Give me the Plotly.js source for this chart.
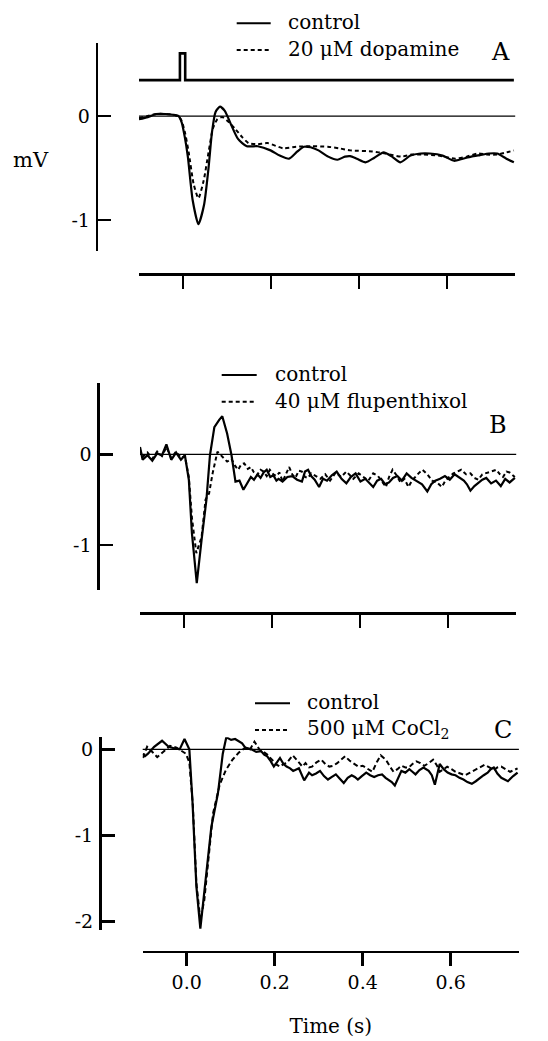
<!DOCTYPE html>
<html>
<head>
<meta charset="utf-8">
<script src="https://cdn.plot.ly/plotly-3.0.1.min.js"></script>
<style>
  html, body { margin: 0; padding: 0; background: #ffffff; }
  #chart { width: 548px; height: 1041px; }
</style>
</head>
<body>
<div id="chart"></div>
<script>
// ---------------- DATA ----------------
// Panel A : control vs 20 µM dopamine  (time in s, voltage in mV)
const tA_control = [-0.1,-0.08,-0.061,-0.04,-0.018,-0.01,-0.003,0.004,0.011,0.022,0.035,0.048,0.058,0.066,0.074,0.084,0.095,0.108,0.125,0.145,0.17,0.199,0.22,0.241,0.26,0.275,0.29,0.308,0.33,0.351,0.368,0.38,0.395,0.415,0.435,0.456,0.475,0.494,0.517,0.54,0.561,0.59,0.616,0.636,0.655,0.675,0.695,0.714,0.735,0.752];
const vA_control = [-0.03,-0.01,0.02,0.02,0.01,0.0,-0.06,-0.2,-0.39,-0.81,-1.04,-0.85,-0.50,-0.15,0.04,0.09,0.05,-0.07,-0.22,-0.29,-0.29,-0.33,-0.38,-0.41,-0.34,-0.295,-0.30,-0.33,-0.39,-0.42,-0.39,-0.385,-0.41,-0.445,-0.40,-0.35,-0.39,-0.445,-0.38,-0.36,-0.36,-0.38,-0.43,-0.41,-0.39,-0.375,-0.36,-0.36,-0.41,-0.445];
const tA_dopamine = [-0.1,-0.08,-0.06,-0.04,-0.018,-0.005,0.004,0.013,0.024,0.035,0.047,0.058,0.068,0.078,0.089,0.102,0.118,0.134,0.149,0.17,0.192,0.228,0.257,0.29,0.329,0.355,0.38,0.43,0.46,0.496,0.52,0.546,0.58,0.619,0.645,0.669,0.69,0.714,0.735,0.752];
const vA_dopamine = [-0.02,0.0,0.02,0.02,0.01,-0.03,-0.15,-0.35,-0.65,-0.79,-0.62,-0.35,-0.12,-0.03,-0.01,-0.05,-0.12,-0.20,-0.26,-0.27,-0.26,-0.31,-0.295,-0.29,-0.295,-0.31,-0.33,-0.34,-0.36,-0.39,-0.37,-0.37,-0.38,-0.41,-0.39,-0.36,-0.37,-0.37,-0.35,-0.33];
// stimulus marker above panel A
const tA_stimulus = [-0.1,-0.007,-0.007,0.005,0.005,0.752];
const vA_stimulus = [0.346,0.346,0.603,0.603,0.346,0.346];

// Panel B : control vs 40 µM flupenthixol
const tB_control = [-0.1,-0.094,-0.083,-0.072,-0.061,-0.05,-0.04,-0.029,-0.018,-0.007,0.002,0.011,0.018,0.029,0.04,0.051,0.059,0.069,0.08,0.087,0.098,0.108,0.117,0.126,0.135,0.145,0.152,0.159,0.167,0.174,0.181,0.188,0.196,0.203,0.21,0.215,0.224,0.235,0.246,0.257,0.268,0.275,0.282,0.289,0.297,0.307,0.316,0.325,0.336,0.347,0.358,0.369,0.379,0.39,0.401,0.412,0.421,0.43,0.439,0.448,0.457,0.466,0.475,0.485,0.495,0.506,0.517,0.528,0.541,0.553,0.562,0.571,0.582,0.593,0.604,0.615,0.625,0.636,0.643,0.651,0.66,0.669,0.678,0.687,0.698,0.709,0.72,0.73,0.74,0.752];
const vB_control = [0.08,-0.06,-0.01,-0.07,0.01,-0.01,0.11,-0.06,0.02,-0.06,-0.01,-0.28,-0.87,-1.42,-0.94,-0.50,-0.01,0.30,0.38,0.42,0.23,-0.01,-0.30,-0.29,-0.39,-0.30,-0.25,-0.28,-0.22,-0.26,-0.20,-0.17,-0.25,-0.23,-0.29,-0.27,-0.30,-0.25,-0.24,-0.28,-0.30,-0.19,-0.17,-0.24,-0.28,-0.36,-0.27,-0.29,-0.23,-0.19,-0.27,-0.32,-0.25,-0.21,-0.30,-0.27,-0.31,-0.36,-0.29,-0.27,-0.33,-0.31,-0.26,-0.24,-0.29,-0.21,-0.26,-0.29,-0.33,-0.41,-0.33,-0.29,-0.27,-0.24,-0.28,-0.22,-0.25,-0.29,-0.33,-0.40,-0.35,-0.31,-0.28,-0.26,-0.32,-0.29,-0.35,-0.27,-0.31,-0.26];
const tB_flupenthixol = [-0.1,-0.094,-0.083,-0.072,-0.061,-0.05,-0.04,-0.029,-0.018,-0.007,0.002,0.011,0.018,0.028,0.04,0.049,0.057,0.065,0.076,0.087,0.098,0.108,0.115,0.123,0.13,0.137,0.145,0.152,0.159,0.166,0.174,0.181,0.188,0.195,0.203,0.21,0.217,0.224,0.232,0.239,0.246,0.253,0.261,0.268,0.275,0.282,0.289,0.3,0.31,0.321,0.332,0.345,0.357,0.369,0.377,0.385,0.397,0.408,0.419,0.43,0.441,0.45,0.459,0.466,0.474,0.483,0.492,0.501,0.51,0.518,0.525,0.533,0.542,0.553,0.564,0.575,0.586,0.593,0.6,0.612,0.621,0.63,0.641,0.651,0.66,0.669,0.678,0.687,0.698,0.71,0.718,0.725,0.733,0.74,0.752];
const vB_flupenthixol = [0.05,-0.03,0.02,-0.05,0.03,-0.02,0.08,-0.04,0.03,-0.04,-0.02,-0.25,-0.70,-1.09,-0.91,-0.50,-0.43,-0.21,0.03,-0.03,-0.08,-0.05,-0.12,-0.17,-0.11,-0.10,-0.16,-0.14,-0.20,-0.23,-0.17,-0.19,-0.24,-0.17,-0.22,-0.24,-0.20,-0.30,-0.22,-0.14,-0.22,-0.26,-0.18,-0.19,-0.25,-0.26,-0.21,-0.24,-0.27,-0.22,-0.29,-0.20,-0.25,-0.19,-0.23,-0.27,-0.21,-0.25,-0.29,-0.21,-0.24,-0.30,-0.36,-0.25,-0.17,-0.23,-0.31,-0.27,-0.36,-0.29,-0.25,-0.21,-0.17,-0.22,-0.29,-0.31,-0.36,-0.30,-0.26,-0.21,-0.19,-0.17,-0.22,-0.21,-0.26,-0.28,-0.22,-0.21,-0.19,-0.17,-0.22,-0.25,-0.19,-0.20,-0.25];

// Panel C : control vs 500 µM CoCl2
const tC_control = [-0.1,-0.095,-0.088,-0.074,-0.056,-0.041,-0.027,-0.016,-0.005,0.006,0.013,0.022,0.031,0.042,0.056,0.071,0.082,0.09,0.101,0.11,0.118,0.126,0.133,0.147,0.158,0.169,0.176,0.183,0.19,0.198,0.205,0.212,0.22,0.227,0.235,0.242,0.255,0.267,0.278,0.285,0.294,0.303,0.312,0.321,0.33,0.339,0.348,0.357,0.366,0.375,0.382,0.389,0.398,0.408,0.417,0.426,0.435,0.444,0.452,0.459,0.466,0.473,0.48,0.488,0.497,0.506,0.513,0.52,0.529,0.538,0.55,0.557,0.564,0.57,0.575,0.584,0.593,0.602,0.611,0.62,0.629,0.638,0.648,0.657,0.666,0.675,0.684,0.691,0.698,0.706,0.715,0.722,0.73,0.742,0.752];
const vC_control = [-0.05,-0.08,-0.05,0.03,0.10,0.03,0.01,0.0,0.12,0.0,-0.59,-1.59,-2.08,-1.59,-0.90,-0.51,-0.05,0.14,0.11,0.12,0.09,0.07,0.02,0.0,-0.03,-0.02,-0.06,-0.08,-0.13,-0.20,-0.15,-0.10,-0.17,-0.20,-0.22,-0.25,-0.22,-0.36,-0.27,-0.30,-0.28,-0.25,-0.31,-0.35,-0.32,-0.29,-0.34,-0.39,-0.33,-0.30,-0.32,-0.35,-0.31,-0.27,-0.30,-0.32,-0.30,-0.29,-0.33,-0.35,-0.38,-0.42,-0.33,-0.25,-0.27,-0.23,-0.26,-0.29,-0.24,-0.21,-0.25,-0.30,-0.41,-0.27,-0.17,-0.23,-0.27,-0.29,-0.30,-0.33,-0.35,-0.38,-0.40,-0.37,-0.33,-0.30,-0.27,-0.23,-0.21,-0.28,-0.33,-0.35,-0.37,-0.31,-0.27];
const tC_cobalt = [-0.1,-0.09,-0.078,-0.067,-0.049,-0.038,-0.023,-0.01,-0.002,0.006,0.014,0.022,0.031,0.04,0.046,0.06,0.075,0.089,0.104,0.118,0.133,0.144,0.154,0.165,0.175,0.183,0.19,0.198,0.205,0.212,0.22,0.227,0.234,0.241,0.248,0.256,0.263,0.27,0.278,0.285,0.295,0.306,0.315,0.324,0.333,0.342,0.351,0.36,0.37,0.38,0.39,0.4,0.411,0.422,0.432,0.441,0.448,0.455,0.462,0.47,0.479,0.488,0.497,0.505,0.513,0.522,0.531,0.54,0.55,0.56,0.568,0.575,0.584,0.592,0.602,0.611,0.622,0.633,0.644,0.655,0.666,0.677,0.688,0.698,0.706,0.715,0.725,0.735,0.744,0.752];
const vC_cobalt = [-0.10,0.03,-0.03,-0.09,-0.01,0.04,0.02,-0.02,-0.05,-0.15,-0.65,-1.55,-1.98,-1.75,-1.44,-0.74,-0.41,-0.24,-0.12,-0.04,0.02,0.0,0.09,0.0,-0.03,-0.06,-0.10,-0.15,-0.18,-0.20,-0.17,-0.16,-0.12,-0.07,-0.11,-0.16,-0.20,-0.16,-0.21,-0.20,-0.15,-0.12,-0.17,-0.20,-0.19,-0.16,-0.12,-0.08,-0.13,-0.17,-0.20,-0.19,-0.23,-0.26,-0.15,-0.07,-0.10,-0.14,-0.20,-0.26,-0.23,-0.19,-0.21,-0.21,-0.17,-0.14,-0.16,-0.19,-0.16,-0.12,-0.18,-0.26,-0.23,-0.20,-0.23,-0.26,-0.28,-0.30,-0.27,-0.24,-0.21,-0.18,-0.21,-0.24,-0.21,-0.20,-0.23,-0.26,-0.24,-0.22];

// Labels
const legendA = ['control', '20 μM dopamine'];
const legendB = ['control', '40 μM flupenthixol'];
const legendC = ['control', '500 μM CoCl<sub>2</sub>'];
const panelLetters = ['A', 'B', 'C'];
const xTickVals = [0, 0.2, 0.4, 0.6];
const xTickText = ['0.0', '0.2', '0.4', '0.6'];
const yTickValsA = [0, -1], yTickTextA = ['0', '-1'];
const yTickValsB = [0, -1], yTickTextB = ['0', '-1'];
const yTickValsC = [0, -1, -2], yTickTextC = ['0', '-1', '-2'];
const yUnit = 'mV';
const xTitle = 'Time (s)';

// ---------------- LAYOUT HELPERS ----------------
const W = 548, H = 1041;
const FONT = 'DejaVu Serif';
const fx = p => p / W;
const fy = p => 1 - p / H;

const SOLID = {color: '#000', width: 2.2};
const DASH = {color: '#000', width: 2.0, dash: '4px,3px'};

const traces = [
  {x: tA_stimulus, y: vA_stimulus, xaxis: 'x', yaxis: 'y', mode: 'lines', line: {color: '#000', width: 2.6}, showlegend: false, hoverinfo: 'skip'},
  {x: tA_dopamine, y: vA_dopamine, xaxis: 'x', yaxis: 'y', mode: 'lines', name: legendA[1], line: Object.assign({}, DASH, {shape: 'spline', smoothing: 0.6}), showlegend: false},
  {x: tA_control, y: vA_control, xaxis: 'x', yaxis: 'y', mode: 'lines', name: legendA[0], line: Object.assign({}, SOLID, {shape: 'spline', smoothing: 0.6}), showlegend: false},
  {x: tB_flupenthixol, y: vB_flupenthixol, xaxis: 'x2', yaxis: 'y2', mode: 'lines', name: legendB[1], line: DASH, showlegend: false},
  {x: tB_control, y: vB_control, xaxis: 'x2', yaxis: 'y2', mode: 'lines', name: legendB[0], line: SOLID, showlegend: false},
  {x: tC_cobalt, y: vC_cobalt, xaxis: 'x3', yaxis: 'y3', mode: 'lines', name: legendC[1], line: Object.assign({}, DASH, {dash: '5px,3px'}), showlegend: false},
  {x: tC_control, y: vC_control, xaxis: 'x3', yaxis: 'y3', mode: 'lines', name: legendC[0], line: SOLID, showlegend: false}
];

// pixel geometry of the three panels
const X_RANGE = [-0.1, 0.755];
const panels = [
  {xDom: [139, 515.2], yDom: [43.3, 250.7], yRange: [-1.295, 0.70], xAxisY: 274, yAxisX: 96.7, tv: yTickValsA, tt: yTickTextA,
   leg: {x0: 236.7, x1: 270.7, y: [23.3, 50], tx: 286}, letter: {x: 500, y: 52}, labels: legendA},
  {xDom: [140, 516.2], yDom: [382.7, 590], yRange: [-1.496, 0.79], xAxisY: 613.3, yAxisX: 98.3, tv: yTickValsB, tt: yTickTextB,
   leg: {x0: 221.7, x1: 256.7, y: [375, 401.7], tx: 272.7}, letter: {x: 497.5, y: 425}, labels: legendB},
  {xDom: [142.7, 518.9], yDom: [737.3, 930], yRange: [-2.096, 0.14], xAxisY: 951.7, yAxisX: 100, tv: yTickValsC, tt: yTickTextC,
   leg: {x0: 255, x1: 290, y: [703.3, 730], tx: 305}, letter: {x: 502.5, y: 730}, labels: legendC}
];

const layout = {
  width: W, height: H,
  margin: {l: 0, r: 0, t: 0, b: 0},
  paper_bgcolor: '#fff', plot_bgcolor: 'rgba(0,0,0,0)',
  font: {family: FONT, color: '#000', size: 19},
  showlegend: false,
  shapes: [], annotations: []
};

panels.forEach((p, i) => {
  const sfx = i === 0 ? '' : String(i + 1);
  const isLast = i === panels.length - 1;
  const xa = {
    anchor: 'free', position: fy(p.xAxisY),
    domain: [fx(p.xDom[0]), fx(p.xDom[1])], range: X_RANGE,
    showline: true, linecolor: '#000', linewidth: 2.7,
    ticks: 'outside', ticklen: 13, tickwidth: 2.6, tickcolor: '#000',
    tickvals: xTickVals, ticktext: xTickText,
    showticklabels: isLast, tickfont: {family: FONT, size: 19},
    showgrid: false, zeroline: false, fixedrange: true
  };
  if (isLast) xa.title = {text: xTitle, font: {family: FONT, size: 20}, standoff: 26};
  layout['xaxis' + sfx] = xa;
  layout['yaxis' + sfx] = {
    anchor: 'free', position: fx(p.yAxisX),
    domain: [fy(p.yDom[1]), fy(p.yDom[0])], range: p.yRange,
    showline: true, linecolor: '#000', linewidth: 2.7,
    ticks: 'inside', ticklen: 13, tickwidth: 2.6, tickcolor: '#000',
    tickvals: p.tv, ticktext: p.tt, tickfont: {family: FONT, size: 19},
    ticklabelstandoff: 2,
    showgrid: false, zeroline: false, fixedrange: true
  };
  // thin zero reference line
  layout.shapes.push({type: 'line', xref: 'x' + sfx + ' domain', yref: 'y' + sfx, x0: 0, x1: 1, y0: 0, y1: 0,
                      line: {color: '#000', width: 1.3}, layer: 'below'});
  // legend samples
  layout.shapes.push({type: 'line', xref: 'paper', yref: 'paper', x0: fx(p.leg.x0), x1: fx(p.leg.x1), y0: fy(p.leg.y[0]), y1: fy(p.leg.y[0]),
                      line: {color: '#000', width: 2}});
  layout.shapes.push({type: 'line', xref: 'paper', yref: 'paper', x0: fx(p.leg.x0), x1: fx(p.leg.x1), y0: fy(p.leg.y[1]), y1: fy(p.leg.y[1]),
                      line: {color: '#000', width: 2, dash: '4px,3px'}});
  p.labels.forEach((lab, k) => {
    layout.annotations.push({xref: 'paper', yref: 'paper', x: fx(p.leg.tx), y: fy(p.leg.y[k] - 1), xanchor: 'left', yanchor: 'middle',
                             text: lab, showarrow: false, font: {family: FONT, size: 20}});
  });
  layout.annotations.push({xref: 'paper', yref: 'paper', x: fx(p.letter.x), y: fy(p.letter.y), xanchor: 'center', yanchor: 'middle',
                           text: panelLetters[i], showarrow: false, font: {family: FONT, size: 24}});
});

layout.annotations.push({xref: 'paper', yref: 'paper', x: fx(30.7), y: fy(160), xanchor: 'center', yanchor: 'middle',
                         text: yUnit, showarrow: false, font: {family: FONT, size: 21}});

Plotly.newPlot('chart', traces, layout, {staticPlot: true, displayModeBar: false});
</script>
</body>
</html>
